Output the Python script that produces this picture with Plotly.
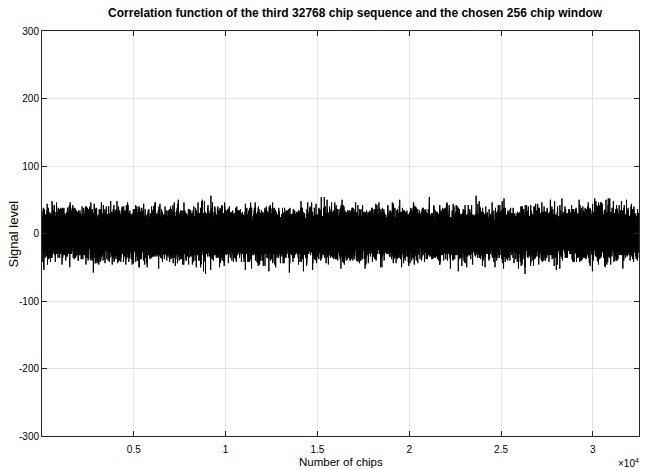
import numpy as np
import plotly.graph_objects as go

# Chip generators: degree-15 Fibonacci LFSRs (taps are 1-based register stages)
SEQ_LEN = 32768
WINDOW_LEN = 256
window_taps = [15, 14]          # generator of the sequence the window is cut from
window_seed = [1, 0, 0, 1, 0, 1, 1, 0, 1, 0, 0, 1, 1, 1, 0]
window_start = 4096
third_taps = [15, 11]           # generator of the third chip sequence
third_seed = [0, 1, 1, 0, 1, 0, 0, 0, 1, 1, 0, 1, 0, 1, 1]

x_tick_vals = [5000, 10000, 15000, 20000, 25000, 30000]
x_tick_text = ["0.5", "1", "1.5", "2", "2.5", "3"]
y_tick_vals = [-300, -200, -100, 0, 100, 200, 300]
y_tick_text = ["-300", "-200", "-100", "0", "100", "200", "300"]


def lfsr_chips(taps, seed, n):
    reg = list(seed)
    out = np.empty(n, dtype=np.int8)
    for i in range(n):
        bit = reg[-1]
        out[i] = 1 - 2 * bit       # map 0/1 -> +1/-1
        fb = 0
        for t in taps:
            fb ^= reg[t - 1]
        reg = [fb] + reg[:-1]
    return out


third_seq = lfsr_chips(third_taps, third_seed, SEQ_LEN).astype(float)
window_src = lfsr_chips(window_taps, window_seed, SEQ_LEN).astype(float)
window = window_src[window_start:window_start + WINDOW_LEN]

corr = np.correlate(third_seq, window, mode="valid")
chips = np.arange(1, corr.size + 1)

font_family = "Liberation Sans Narrow, Arial Narrow, Liberation Sans, Arial, sans-serif"

fig = go.Figure(
    go.Scatter(
        x=chips, y=corr, mode="lines",
        line=dict(color="black", width=1, simplify=False),
        hoverinfo="skip",
    )
)

axis_common = dict(
    showline=True, linecolor="#262626", linewidth=1, mirror="ticks",
    ticks="inside", ticklen=5, tickcolor="#262626",
    showgrid=True, gridcolor="#e3e3e3", gridwidth=1,
    zeroline=False, automargin=False,
    tickfont=dict(family=font_family, size=10, color="black"),
)

fig.update_layout(
    width=648, height=470,
    margin=dict(l=42, r=9, t=31, b=34),
    paper_bgcolor="white", plot_bgcolor="white",
    showlegend=False,
    title=dict(
        text="<b>Correlation function of the third 32768 chip sequence and the chosen 256 chip window</b>",
        font=dict(family=font_family, size=12, color="black"),
        x=0.548, xanchor="center", y=0.972, yanchor="middle",
    ),
    xaxis=dict(
        range=[1, corr.size], tickvals=x_tick_vals, ticktext=x_tick_text,
        ticklabelstandoff=4,
        **axis_common,
    ),
    yaxis=dict(
        range=[-300, 300], tickvals=y_tick_vals, ticktext=y_tick_text,
        **axis_common,
    ),
    annotations=[
        dict(
            text="Number of chips", x=0.5, y=-0.064, xref="paper", yref="paper",
            xanchor="center", yanchor="middle", showarrow=False,
            font=dict(family=font_family, size=11.5, color="black"),
        ),
        dict(
            text="Signal level", x=-0.047, y=0.5, xref="paper", yref="paper",
            xanchor="center", yanchor="middle", textangle=-90, showarrow=False,
            font=dict(family="Liberation Sans, Arial, sans-serif", size=13, color="black"),
        ),
        dict(
            text="×10<sup>4</sup>", x=1.003, y=-0.066, xref="paper", yref="paper",
            xanchor="right", yanchor="middle", showarrow=False,
            font=dict(family=font_family, size=10, color="black"),
        ),
    ],
)

fig.write_html("out.html")
